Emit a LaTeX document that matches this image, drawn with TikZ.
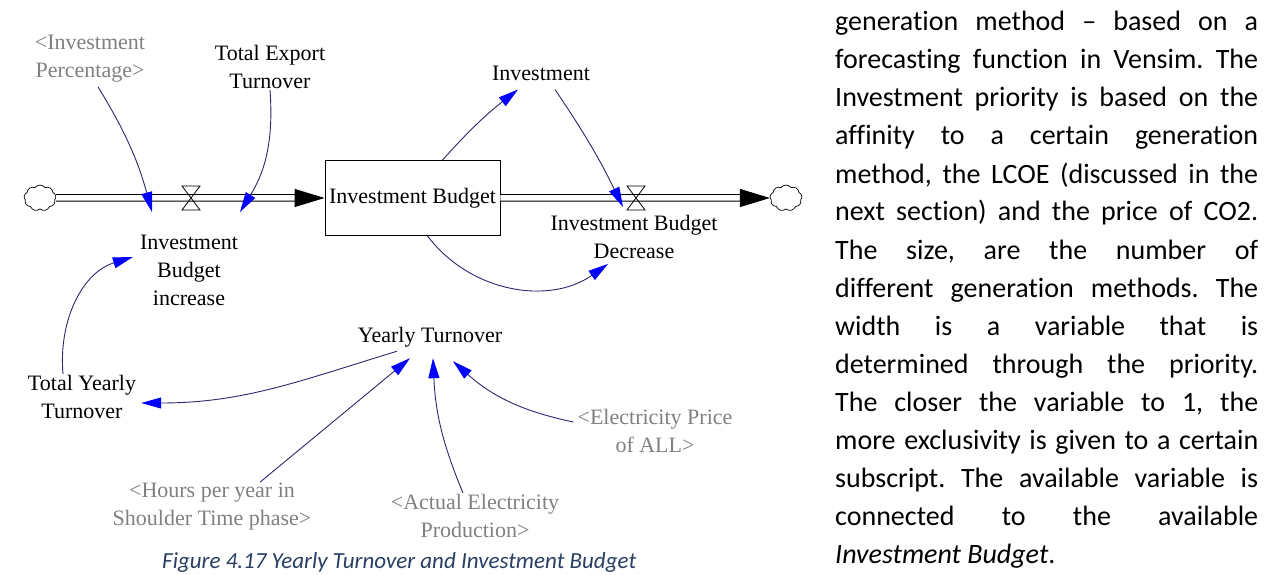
\documentclass[tikz,border=0pt]{standalone}
\usepackage{fontspec}
\setmainfont{Liberation Serif}
\newfontfamily\bodyfont[Ligatures={NoCommon}]{Carlito}
\usetikzlibrary{arrows.meta,shapes.symbols}
\definecolor{linknavy}{RGB}{40,40,110}
\definecolor{headblue}{RGB}{0,0,255}
\definecolor{ghost}{RGB}{128,128,128}
\definecolor{capblue}{RGB}{40,62,100}
\frenchspacing
\begin{document}
\begin{tikzpicture}[x=1pt,y=-1pt,
		var/.style={font=\fontsize{22}{28}\selectfont, align=center, inner sep=1pt},
		ghostvar/.style={var, text=ghost},
		link/.style={draw=linknavy, line width=0.9pt, -{Triangle[length=20pt,width=11pt,color=headblue]}},
		pipe/.style={draw=black, line width=1pt, double=white, double distance=5.5pt, -{Triangle[length=30pt,width=18pt]}},
		cloudnode/.style={cloud, cloud puffs=9, cloud puff arc=110, aspect=1.2, draw, line width=0.7pt, minimum width=32pt, minimum height=26pt, inner sep=0pt},
		bodytext/.style={font=\bodyfont\fontsize{28}{38}\selectfont, inner sep=0pt, anchor=base west}]
	\useasboundingbox (0,0) rectangle (1270,575);
	% stock and flows
	\node[cloudnode] (srcL) at (40,198) {};
	\node[var, draw, line width=0.9pt, minimum width=175pt, minimum height=75pt] (stock) at (412.5,198) {Investment Budget};
	\node[cloudnode] (sinkR) at (786,198) {};
	\coordinate (vin) at (191,198);
	\coordinate (vout) at (636,198);
	\draw[pipe] (srcL) -- (stock);
	\draw[pipe] (stock) -- (sinkR);
	\draw[line width=0.8pt] (vin) ++(-9,-12) -- ++(18,0) -- ++(-18,24) -- ++(18,0) -- cycle;
	\draw[line width=0.8pt] (vout) ++(-9,-12) -- ++(18,0) -- ++(-18,24) -- ++(18,0) -- cycle;
	% variables
	\node[var] (incLbl) at (189,270) {Investment\\Budget\\increase};
	\node[var] (decLbl) at (634,237) {Investment Budget\\Decrease};
	\node[var] (inv) at (541,73) {Investment};
	\node[ghostvar] (pct) at (90,59) {<Investment\\Percentage>};
	\node[var] (expo) at (270,67) {Total Export\\Turnover};
	\node[var] (yt) at (430,337) {Yearly Turnover};
	\node[var] (tyt) at (82,397) {Total Yearly\\Turnover};
	\node[ghostvar] (hours) at (212,507) {<Hours per year in\\Shoulder Time phase>};
	\node[ghostvar] (actual) at (475,516) {<Actual Electricity\\Production>};
	\node[ghostvar] (price) at (655,431) {<Electricity Price\\of ALL>};
	\coordinate (inA) at (152,212);
	\coordinate (inB) at (240,212);
	\coordinate (outA) at (623,207);
	% links
	\draw[link] ([xshift=8pt,yshift=-3pt]pct.south) to[bend left=8] (inA);
	\draw[link] (expo.south) to[bend left=18] (inB);
	\draw[link] ([xshift=30pt]stock.north) to[bend left=5] ([xshift=-23pt,yshift=-8pt]inv.south);
	\draw[link] ([xshift=14pt,yshift=-8pt]inv.south) to[bend left=4] (outA);
	\draw[link] ([xshift=15pt]stock.south) to[bend right=44] ([xshift=-26pt,yshift=-4pt]decLbl.south);
	\draw[link] ([xshift=-19pt]tyt.north) to[out=95,in=197] ([xshift=-6pt,yshift=13pt]incLbl.west);
	\draw[link] ([xshift=-33pt,yshift=-3pt]yt.south) to[out=197,in=0] ([yshift=-6pt,xshift=4pt]tyt.east);
	\draw[link] ([xshift=48pt]hours.north) -- ([xshift=-20pt,yshift=-10pt]yt.south);
	\draw[link] ([xshift=-12pt]actual.north) to[bend left=10] ([xshift=3pt,yshift=-10pt]yt.south);
	\draw[link] ([yshift=9pt,xshift=-3pt]price.west) to[bend left=15] ([xshift=23pt,yshift=-13pt]yt.south);
	% caption and body text
	\node[font=\bodyfont\itshape\fontsize{23}{28}\selectfont, text=capblue, inner sep=0pt, anchor=base west] (caption) at (162,568) {Figure 4.17 Yearly Turnover and Investment Budget};
	\foreach \linetext [count=\i] in {
			{generation method – based on a},
			{forecasting function in Vensim. The},
			{Investment priority is based on the},
			{affinity to a certain generation},
			{method, the LCOE (discussed in the},
			{next section) and the price of CO2.},
			{The size, are the number of},
			{different generation methods. The},
			{width is a variable that is},
			{determined through the priority.},
			{The closer the variable to 1, the},
			{more exclusivity is given to a certain},
			{subscript. The available variable is},
			{connected to the available}}
		\node[bodytext] (line\i) at (835,{31+38*(\i-1)}) {\makebox[423pt][s]{\linetext}};
	\node[bodytext] (line15) at (835,563) {\textit{Investment Budget}.};
\end{tikzpicture}
\end{document}
